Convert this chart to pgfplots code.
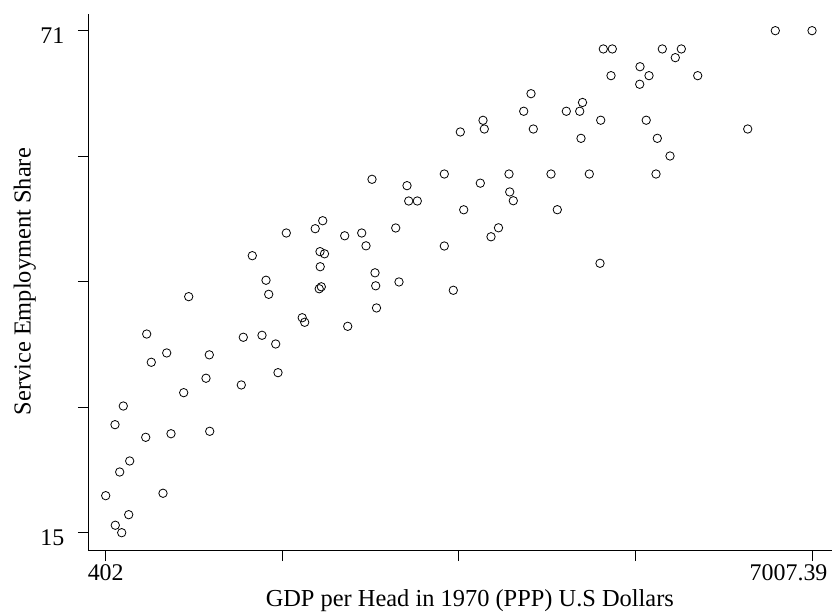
\documentclass[border=0pt]{standalone}
\usepackage{pgfplots}
\pgfplotsset{compat=1.18}
\usepackage{pgfplotstable}
\usepackage{fontspec}
\setmainfont{Liberation Serif}
\pgfplotstableread{
x y
6664.0 71.00
7007.4 71.00
5055.5 68.96
5139.7 68.96
5607.3 68.96
5785.0 68.96
5728.8 67.99
5398.7 66.98
5127.5 65.98
5482.9 65.98
5938.3 65.98
5395.9 65.02
4379.4 63.97
4861.0 62.99
4311.1 62.01
4709.5 62.01
4834.8 62.01
3930.5 61.00
5031.2 61.01
5456.7 61.01
3718.2 59.70
3942.6 60.03
4400.9 60.03
6405.9 60.03
4846.9 58.99
5560.5 58.99
5679.3 57.02
3568.6 55.01
4173.6 55.01
4566.4 55.01
4924.6 55.01
5548.4 55.01
2892.4 54.42
3219.7 53.71
3905.2 53.99
4180.2 53.01
3235.6 52.00
3316.1 52.00
4213.8 52.03
3750.0 51.02
4625.3 51.03
2431.4 49.80
2361.2 48.91
3114.1 48.99
4075.4 49.01
2091.0 48.43
2637.1 48.12
2796.1 48.43
4005.3 48.01
2836.3 47.00
3568.6 46.98
1773.0 45.90
2406.1 46.35
2448.2 46.11
2408.0 44.67
2920.5 43.99
5024.6 45.05
1901.1 43.16
3144.9 42.97
1926.4 41.59
2418.3 42.43
2398.6 42.21
2927.0 42.54
3652.7 42.04
1178.2 41.33
2934.5 40.07
2239.6 38.98
2263.0 38.47
2665.2 38.02
785.4 37.16
1688.8 36.80
1863.7 37.02
1991.8 36.05
972.5 35.05
1370.9 34.84
828.4 34.01
1340.0 32.23
2013.3 32.85
1670.1 31.48
1131.4 30.62
566.6 29.13
489.0 27.05
776.1 25.64
1012.7 26.04
1374.6 26.31
626.4 23.00
532.9 21.77
402.0 19.13
937.9 19.40
617.1 17.01
491.8 15.83
551.6 15.00
}\servdata
\begin{document}
\begin{tikzpicture}[x=1bp,y=1bp]
\path[use as bounding box] (0,0) rectangle (832,613);
\begin{axis}[
  at={(88.3bp,62.3bp)}, anchor=south west,
  scale only axis, width=743.7bp, height=536.7bp,
  xmin=239.3, xmax=7194.3, ymin=12.992, ymax=72.86,
  axis x line*=bottom, axis y line*=left,
  axis line style={-, line width=1bp, black},
  tick align=outside, major tick length=10.5bp,
  tick style={line width=1bp, black},
  xtick={402,2053.35,3704.70,5356.04,7007.39},
  xticklabels={402,{},{},{},{\makebox[0pt][r]{7007.39\hspace{-15.4bp}}}},
  ytick={15,29,43,57,71},
  yticklabels={15,{},{},{},71},
  yticklabel style={xshift=-10bp, yshift=-5bp},
  font=\fontsize{24}{28}\selectfont,
  /pgf/number format/assume math mode=true,
  xlabel={GDP per Head in 1970 (PPP) U.S Dollars},
  ylabel={Service Employment Share},
  xlabel style={at={(axis description cs:0.513,-0.1049)}, anchor=base, font=\fontsize{24.5}{28}\selectfont},
  ylabel style={at={(axis description cs:-0.0777,0.5012)}, anchor=base, font=\fontsize{24.5}{28}\selectfont},
  clip=false,
]
\addplot[only marks, mark=o, mark size=4.2bp, mark options={line width=0.8bp, black}] table[x=x,y=y] {\servdata};
\end{axis}
\end{tikzpicture}
\end{document}
